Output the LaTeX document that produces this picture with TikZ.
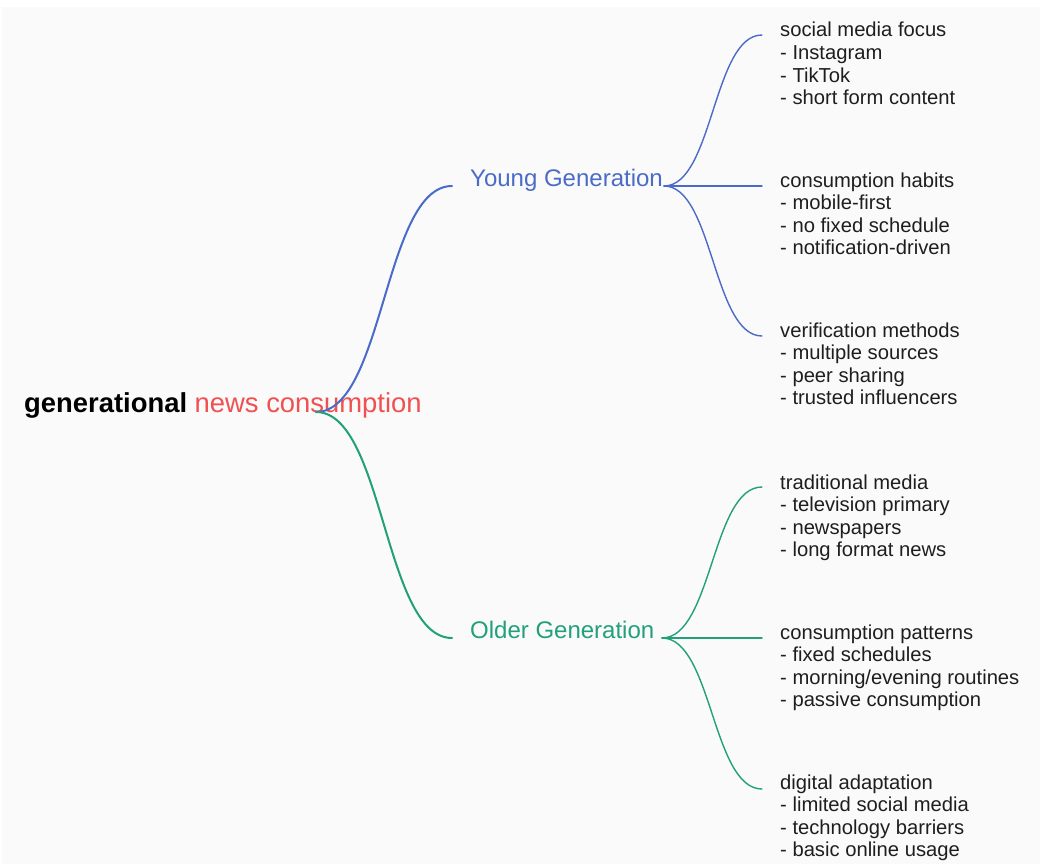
\documentclass[tikz,border=0pt]{standalone}
\usepackage{fontspec}
\setmainfont{Liberation Sans}
\definecolor{bg}{HTML}{FAFAFA}
\definecolor{yblue}{HTML}{4A6CC8}
\definecolor{ogreen}{HTML}{21A07A}
\definecolor{rootred}{HTML}{F05050}
\definecolor{txt}{HTML}{1E1E1E}
\begin{document}
\begin{tikzpicture}[x=1pt,y=-1pt,
  rootlbl/.style={anchor=base west,inner sep=0pt,font=\fontsize{27.4}{30}\selectfont,text=black},
  genlbl/.style={anchor=base west,inner sep=0pt,font=\fontsize{24}{26}\selectfont},
  leaf/.style={anchor=base west,inner sep=0pt,align=left,text=txt,font=\fontsize{20.2}{22.6}\selectfont},
  mainlink/.style={line width=2pt,line cap=round},
  sublink/.style={line width=1.4pt,line cap=round}]
\useasboundingbox (0,0) rectangle (1040,864);
\fill[white] (0,0) rectangle (1040,864);
\fill[bg] (2,7) rectangle (1040,864);

% root
\node[rootlbl] (root) at (24,412) {\textbf{generational} \textcolor{rootred}{news consumption}};
\coordinate (rj) at (316,412);

% generations
\node[genlbl,text=yblue] (young) at (470,186) {Young Generation};
\node[genlbl,text=ogreen] (older) at (470,638) {Older Generation};
\coordinate (yin) at (452,186);
\coordinate (yout) at (664,186);
\coordinate (oin) at (452,638);
\coordinate (oout) at (662,638);

% leaves (base anchor = baseline of last line)
\node[leaf] (y1) at (780,104.8) {social media focus\\- Instagram\\- TikTok\\- short form content};
\node[leaf] (y2) at (780,254.8) {consumption habits\\- mobile-first\\- no fixed schedule\\- notification-driven};
\node[leaf] (y3) at (780,404.8) {verification methods\\- multiple sources\\- peer sharing\\- trusted influencers};
\node[leaf] (o1) at (780,556.8) {traditional media\\- television primary\\- newspapers\\- long format news};
\node[leaf] (o2) at (780,706.8) {consumption patterns\\- fixed schedules\\- morning/evening routines\\- passive consumption};
\node[leaf] (o3) at (780,856.8) {digital adaptation\\- limited social media\\- technology barriers\\- basic online usage};
\coordinate (y1in) at (762,35);
\coordinate (y2in) at (762,186);
\coordinate (y3in) at (762,336);
\coordinate (o1in) at (762,487);
\coordinate (o2in) at (762,638);
\coordinate (o3in) at (762,789);

% links
\draw[mainlink,yblue] (rj) .. controls +(68,0) and +(-68,0) .. (yin);
\draw[mainlink,ogreen] (rj) .. controls +(68,0) and +(-68,0) .. (oin);
\foreach \t in {y1in,y2in,y3in}
  \draw[sublink,yblue] (yout) .. controls +(49,0) and +(-49,0) .. (\t);
\foreach \t in {o1in,o2in,o3in}
  \draw[sublink,ogreen] (oout) .. controls +(50,0) and +(-50,0) .. (\t);
\end{tikzpicture}
\end{document}
